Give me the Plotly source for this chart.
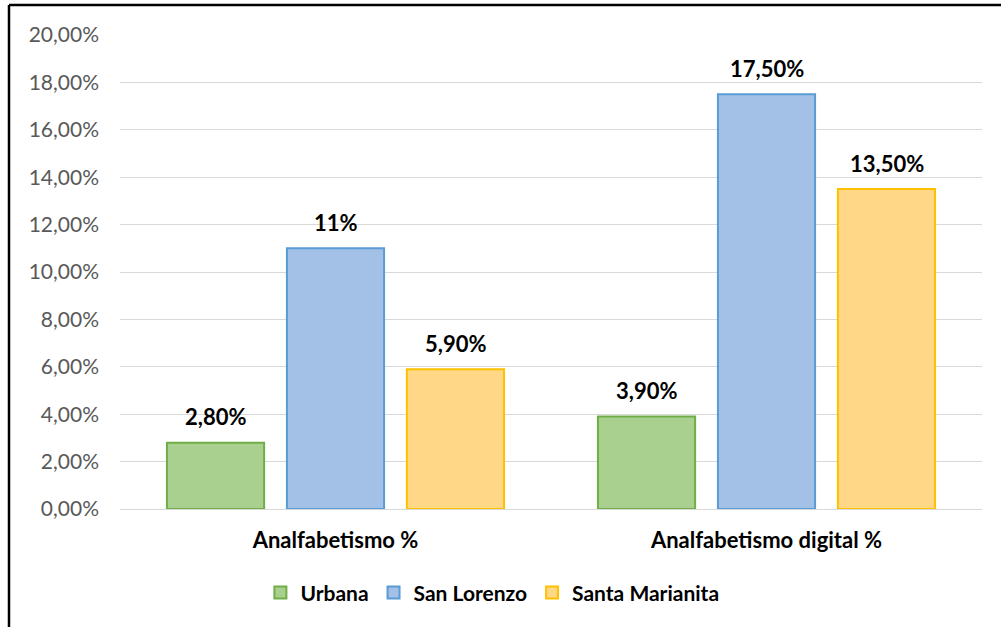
import plotly.graph_objects as go

categories = ["Analfabetismo %", "Analfabetismo digital %"]
series_names = ["Urbana", "San Lorenzo", "Santa Marianita"]
urbana = [0.028, 0.039]
san_lorenzo = [0.11, 0.175]
santa_marianita = [0.059, 0.135]
label_urbana = ["2,80%", "3,90%"]
label_san_lorenzo = ["11%", "17,50%"]
label_santa_marianita = ["5,90%", "13,50%"]
tick_vals = [0, 0.02, 0.04, 0.06, 0.08, 0.10, 0.12, 0.14, 0.16, 0.18, 0.20]

fills = ["#A9D08E", "#A3C1E7", "#FFD787"]
lines = ["#70AD47", "#5B9BD5", "#FFC000"]
values = [urbana, san_lorenzo, santa_marianita]
labels = [label_urbana, label_san_lorenzo, label_santa_marianita]

FONT = "Lato"

fig = go.Figure()
for name, vals, fc, lc in zip(series_names, values, fills, lines):
    fig.add_trace(go.Bar(
        x=categories, y=vals, name=name,
        marker=dict(color=fc, line=dict(color=lc, width=2)),
    ))

offsets = [-120, 0, 120]
for vals, labs, off in zip(values, labels, offsets):
    for c, v, t in zip(categories, vals, labs):
        fig.add_annotation(x=c, y=v, text="<b>%s</b>" % t, xref="x", yref="y",
                           xshift=off, yshift=26, showarrow=False,
                           font=dict(family=FONT, size=22, color="#000000"))

W, H = 1001, 627
L, T = 120, 35
R = W - 982
B = H - 509
pw, ph = W - L - R, H - T - B
bx = (9 - L) / pw
by = 1 + (T - 5) / ph
fig.add_shape(type="line", xref="paper", yref="paper", x0=bx, x1=(W - L) / pw + 0.01,
              y0=by, y1=by, line=dict(color="#000000", width=2.5))
fig.add_shape(type="line", xref="paper", yref="paper", x0=bx, x1=bx,
              y0=by, y1=-B / ph - 0.01, line=dict(color="#000000", width=2.5))

fig.update_layout(
    width=W, height=H,
    margin=dict(l=L, r=R, t=T, b=B),
    paper_bgcolor="white", plot_bgcolor="white",
    separators=",.",
    barmode="group", bargap=0.165, bargroupgap=0.19,
    font=dict(family=FONT),
    showlegend=True,
    legend=dict(orientation="h", x=0.432, xanchor="center", y=-0.177, yanchor="middle",
                font=dict(family=FONT, size=21, color="#000000", weight="bold"),
                itemwidth=30, traceorder="normal"),
    xaxis=dict(showgrid=False, showline=False, ticks="",
               tickfont=dict(family=FONT, size=22, color="#000000", weight="bold"),
               ticklabelstandoff=16),
    yaxis=dict(range=[0, 0.2], tickvals=tick_vals, tickformat=".2%",
               showgrid=True, gridcolor="#D9D9D9", gridwidth=1.3,
               zeroline=True, zerolinecolor="#D9D9D9", zerolinewidth=1.3,
               showline=False, ticks="",
               tickfont=dict(family=FONT, size=21, color="#595959"),
               ticklabelstandoff=20),
)

fig.write_html("out.html", config={"displayModeBar": False},
               post_script="document.body.style.margin='0';document.body.style.overflow='hidden';")
